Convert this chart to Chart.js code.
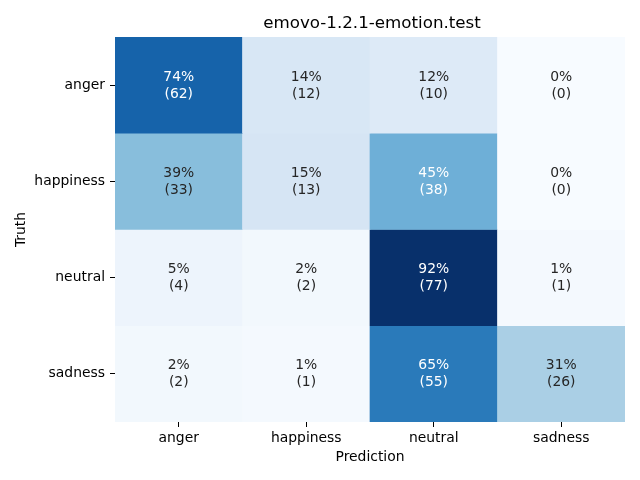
<!DOCTYPE html>
<html>
<head>
<meta charset="utf-8">
<script src="https://cdn.jsdelivr.net/npm/chart.js@4"></script>
<style>
  html, body { margin: 0; padding: 0; background: #fff; }
  #wrap { width: 640px; height: 480px; }
</style>
</head>
<body>
<div id="wrap"><canvas id="cm"></canvas></div>
<script>
var truthLabels = ['anger', 'happiness', 'neutral', 'sadness'];
var predLabels = ['anger', 'happiness', 'neutral', 'sadness'];
var countsAnger = [62, 12, 10, 0];
var countsHappiness = [33, 13, 38, 0];
var countsNeutral = [4, 2, 77, 1];
var countsSadness = [2, 1, 55, 26];
var counts = [countsAnger, countsHappiness, countsNeutral, countsSadness];

// matplotlib "Blues"
var bluesStops = ['#f7fbff', '#deebf7', '#c6dbef', '#9ecae1', '#6baed6', '#4292c6', '#2171b5', '#08519c', '#08306b'];

function hexToRgb(h) {
  return [parseInt(h.substr(1, 2), 16), parseInt(h.substr(3, 2), 16), parseInt(h.substr(5, 2), 16)];
}

function blues(t) {
  t = Math.max(0, Math.min(1, t));
  var pos = t * (bluesStops.length - 1);
  var i = Math.min(Math.floor(pos), bluesStops.length - 2);
  var f = pos - i;
  var a = hexToRgb(bluesStops[i]);
  var b = hexToRgb(bluesStops[i + 1]);
  return [0, 1, 2].map(function(k) { return Math.round(a[k] + (b[k] - a[k]) * f); });
}

function luminance(rgb) {
  var c = rgb.map(function(v) {
    v = v / 255;
    return v <= 0.03928 ? v / 12.92 : Math.pow((v + 0.055) / 1.055, 2.4);
  });
  return 0.2126 * c[0] + 0.7152 * c[1] + 0.0722 * c[2];
}

var fractions = counts.map(function(row) {
  var total = row.reduce(function(s, v) { return s + v; }, 0);
  return row.map(function(v) { return total ? v / total : 0; });
});
var vmax = Math.max.apply(null, fractions.map(function(r) { return Math.max.apply(null, r); }));

var datasets = truthLabels.map(function(t, r) {
  return {
    label: t,
    data: predLabels.map(function() { return [r, r + 1]; }),
    backgroundColor: fractions[r].map(function(f) {
      var c = blues(f / vmax);
      return 'rgb(' + c.join(',') + ')';
    }),
    borderWidth: 0,
    borderSkipped: false,
    barPercentage: 1,
    categoryPercentage: 1,
    grouped: false
  };
});

var fontFamily = '"DejaVu Sans"';

// annotations, title and axis titles
var cellText = {
  id: 'cellText',
  afterDatasetsDraw: function(chart) {
    var ctx = chart.ctx;
    ctx.save();
    ctx.font = '13.9px ' + fontFamily;
    ctx.textAlign = 'center';
    ctx.textBaseline = 'middle';
    chart.data.datasets.forEach(function(ds, r) {
      chart.getDatasetMeta(r).data.forEach(function(bar, c) {
        var f = fractions[r][c];
        var rgb = blues(f / vmax);
        ctx.fillStyle = luminance(rgb) > 0.408 ? '#262626' : '#ffffff';
        var cy = (bar.y + bar.base) / 2;
        ctx.fillText(Math.round(f * 100) + '%', bar.x, cy - 8);
        ctx.fillText('(' + counts[r][c] + ')', bar.x, cy + 9);
      });
    });
    var area = chart.chartArea;
    var cx = (area.left + area.right) / 2;
    ctx.fillStyle = '#000';
    ctx.fillText('Prediction', cx, 457);
    ctx.save();
    ctx.translate(21, (area.top + area.bottom) / 2);
    ctx.rotate(-Math.PI / 2);
    ctx.fillText('Truth', 0, 0);
    ctx.restore();
    ctx.font = '16.7px ' + fontFamily;
    ctx.fillText('emovo-1.2.1-emotion.test', cx + 2, 24);
    ctx.restore();
  }
};

new Chart(document.getElementById('cm').getContext('2d'), {
  type: 'bar',
  data: { labels: predLabels, datasets: datasets },
  plugins: [cellText],
  options: {
    responsive: true,
    maintainAspectRatio: false,
    animation: false,
    layout: { padding: { top: 37, right: 15, left: 0, bottom: 0 } },
    plugins: {
      legend: { display: false },
      tooltip: { enabled: false },
      title: { display: false }
    },
    scales: {
      x: {
        type: 'category',
        offset: true,
        border: { display: false },
        grid: { offset: false, drawOnChartArea: false, drawTicks: true, tickLength: 5, color: '#000' },
        ticks: { color: '#000', font: { family: 'DejaVu Sans', size: 13.9 }, padding: 3, maxRotation: 0 },
        afterFit: function(axis) { axis.height = 58; }
      },
      y: {
        type: 'linear',
        min: 0,
        max: 4,
        reverse: true,
        border: { display: false },
        grid: { drawOnChartArea: false, drawTicks: true, tickLength: 5, color: '#000' },
        afterBuildTicks: function(axis) {
          axis.ticks = [0.5, 1.5, 2.5, 3.5].map(function(v) { return { value: v }; });
        },
        ticks: {
          color: '#000',
          font: { family: 'DejaVu Sans', size: 13.9 },
          padding: 5,
          callback: function(v) { return truthLabels[Math.floor(v)]; }
        },
        afterFit: function(axis) { axis.width = 115; }
      }
    }
  }
});
</script>
</body>
</html>
